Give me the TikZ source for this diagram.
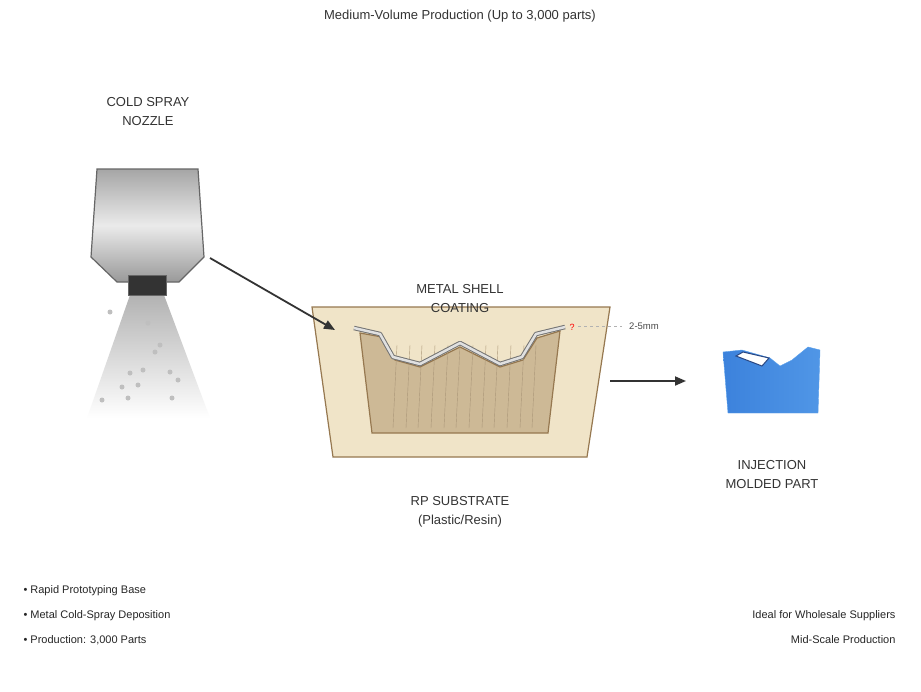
\documentclass[tikz,border=0pt]{standalone}
\usepackage{fontspec}
\setmainfont{Liberation Sans}
\usetikzlibrary{arrows.meta}
\definecolor{moldfill}{RGB}{240,228,200}
\definecolor{moldedge}{RGB}{150,120,80}
\definecolor{cavfill}{RGB}{205,185,150}
\definecolor{hatch}{RGB}{170,150,120}
\definecolor{blueA}{RGB}{60,130,220}
\definecolor{blueB}{RGB}{80,150,230}
\definecolor{blueE}{RGB}{90,160,235}
\definecolor{winE}{RGB}{40,70,130}
\begin{document}
\begin{tikzpicture}[x=1pt,y=-1pt,
  lbl/.style={font=\fontsize{13}{19}\selectfont,text=black!80,align=center},
  small/.style={font=\fontsize{11}{14}\selectfont,text=black!85},
  conn/.style={draw=black!80,line width=1.8pt,-{Triangle[length=11pt,width=9pt]}}]
\useasboundingbox[fill=white] (0,0) rectangle (921,691);
% nozzle
\shade[top color=black!35,bottom color=black!40,middle color=black!8,draw=black!60,line width=1.2pt]
 (97,169) -- (198,169) -- (204,257) -- (179,282) -- (117,282) -- (91,257) -- cycle;
\shade[top color=black!30,bottom color=white] (130,295) -- (164,295) -- (210,418) -- (87,418) -- cycle;
\fill[black!80,draw=black!60] (128,275) rectangle (166,295);
\foreach \p in {(148,323),(110,312),(160,345),(155,352),(170,372),(143,370),(130,373),(122,387),(138,385),(128,398),(178,380),(102,400),(172,398)}
  \fill[black!25] \p circle (2.5pt);
\node[draw=none] (noz) at (210,258) {};
% mold
\fill[fill=moldfill,draw=moldedge,line width=1.2pt]
 (312,307) -- (610,307) -- (587,457) -- (333,457) -- cycle;
\fill[fill=cavfill,draw=moldedge,line width=1.2pt]
 (360,333) -- (382,337) -- (395,360) -- (420,367) -- (460,347) -- (500,367) -- (523,360) -- (537,338) -- (560,331) -- (548,433) -- (372,433) -- cycle;
\foreach \x in {397,410,422,435,448,460,473,486,498,511,524,536}
  \draw[hatch,line width=0.4pt] (\x,345) -- (\x-4,428);
\draw[black!55,line width=4.5pt,line join=round] (354,328) -- (380,334) -- (393,357) -- (420,364) -- (460,343) -- (500,364) -- (522,357) -- (536,334) -- (565,327);
\draw[black!12,line width=2.5pt,line join=round] (354,328) -- (380,334) -- (393,357) -- (420,364) -- (460,343) -- (500,364) -- (522,357) -- (536,334) -- (565,327);
\node[text=red,font=\fontsize{9}{9}\selectfont] at (572,327) {?};
\draw[black!30,dashed,line width=0.8pt] (578,326) -- (622,326);
\node[font=\fontsize{9.5}{10}\selectfont,text=black!70] (mm) at (644,326) {2-5mm};
\node[draw=none,inner sep=0] (moldin) at (335,330) {};
\node[draw=none,inner sep=0] (moldout) at (610,381) {};
\coordinate (partin) at (686,381);
% part
\shade[left color=blueA,right color=blueB,draw=blueE]
 (723,352) -- (742,350) -- (770,358) -- (780,366) -- (792,360) -- (808,347) -- (820,350) -- (818,413) -- (728,413) -- cycle;
\draw[fill=white,draw=winE,line width=1pt] (736,356) -- (743,352) -- (769,358) -- (762,366) -- cycle;
% connectors
\draw[conn] (noz.center) -- (moldin.center);
\draw[conn] (moldout.center) -- (partin);
% texts
\node[lbl] (title) at (460,16) {Medium-Volume Production (Up to 3,000 parts)};
\node[lbl] (nl) at (148,112) {COLD SPRAY\\NOZZLE};
\node[lbl] (ml) at (460,299) {METAL SHELL\\COATING};
\node[lbl] (rp) at (460,512) {RP SUBSTRATE\\(Plastic/Resin)};
\node[lbl] (pl) at (772,475) {INJECTION\\MOLDED PART};
\node[small,anchor=west] (b1) at (20,591) {• Rapid Prototyping Base};
\node[small,anchor=west] (b2) at (20,616) {• Metal Cold-Spray Deposition};
\node[small,anchor=west] (b3) at (20,640) {• Production: 3,000 Parts};
\node[small,anchor=east] (r1) at (899,616) {Ideal for Wholesale Suppliers};
\node[small,anchor=east] (r2) at (899,640) {Mid-Scale Production};
\end{tikzpicture}
\end{document}
